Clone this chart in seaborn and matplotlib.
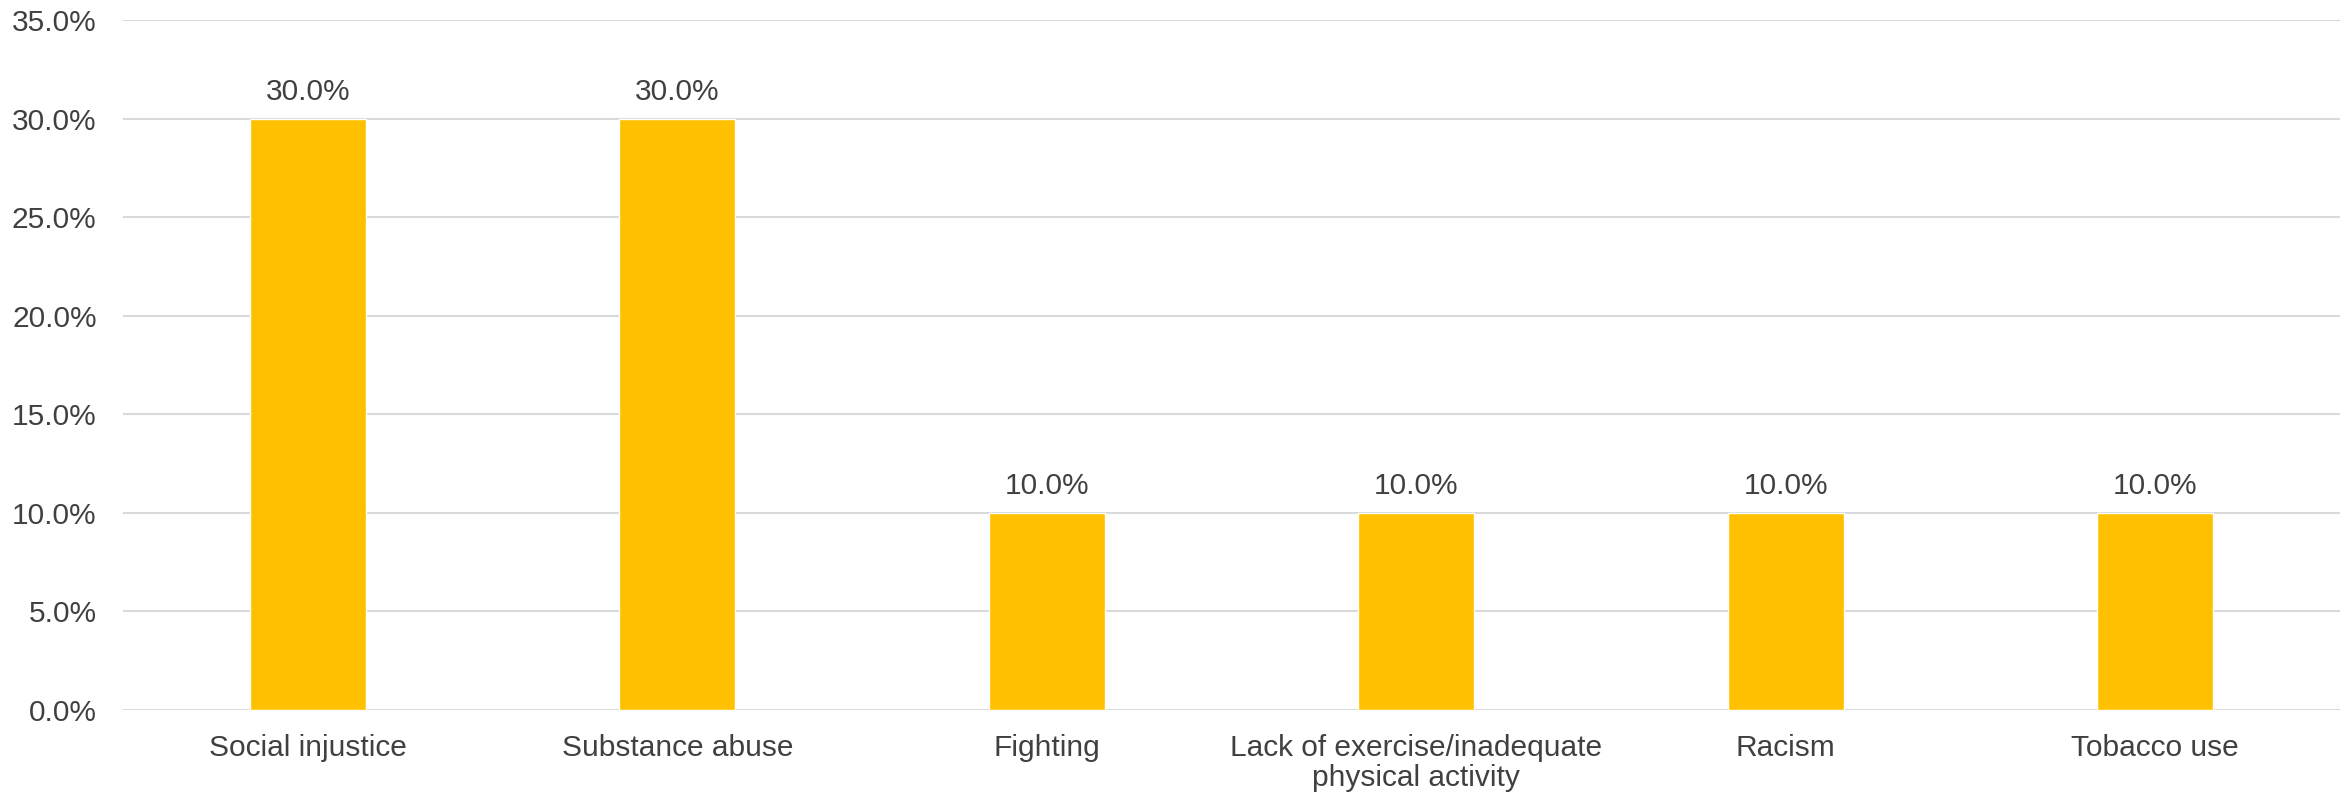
import matplotlib
matplotlib.use("Agg")
import matplotlib.pyplot as plt
import seaborn as sns
import pandas as pd
from matplotlib.ticker import PercentFormatter

# data
categories = ["Social injustice", "Substance abuse", "Fighting",
              "Lack of exercise/inadequate\nphysical activity", "Racism", "Tobacco use"]
shares = [30.0, 30.0, 10.0, 10.0, 10.0, 10.0]

df = pd.DataFrame({"Category": categories, "Share": shares})

sns.set_theme(style="white")
plt.rcParams['font.family'] = ['Liberation Sans', 'DejaVu Sans']
text_color = "#404040"
fs = 21.5

fig = plt.figure(figsize=(23.49, 7.96), dpi=100)
ax = fig.add_axes([0.0524, 0.108, 0.9438, 0.8669])

sns.barplot(data=df, x="Category", y="Share", color="#FFC000", width=0.314,
            saturation=1, ax=ax, zorder=3)

ax.set_ylim(0, 35)
ax.set_yticks([0, 5, 10, 15, 20, 25, 30, 35])
ax.yaxis.set_major_formatter(PercentFormatter(decimals=1))
ax.grid(axis="y", color="#d9d9d9", linewidth=1.5, zorder=0)
ax.set_axisbelow(True)
for s in ax.spines.values():
    s.set_visible(False)

ax.set_xlabel("")
ax.set_ylabel("")
ax.tick_params(axis="y", length=0, pad=19, labelsize=fs, labelcolor=text_color)
ax.tick_params(axis="x", length=0, pad=17, labelsize=fs, labelcolor=text_color)
for lbl in ax.get_xticklabels():
    lbl.set_linespacing(1.12)

ax.bar_label(ax.containers[0], labels=[f"{v:.1f}%" for v in shares],
             padding=9, fontsize=fs, color=text_color)

fig.savefig("out.png", dpi=100)
